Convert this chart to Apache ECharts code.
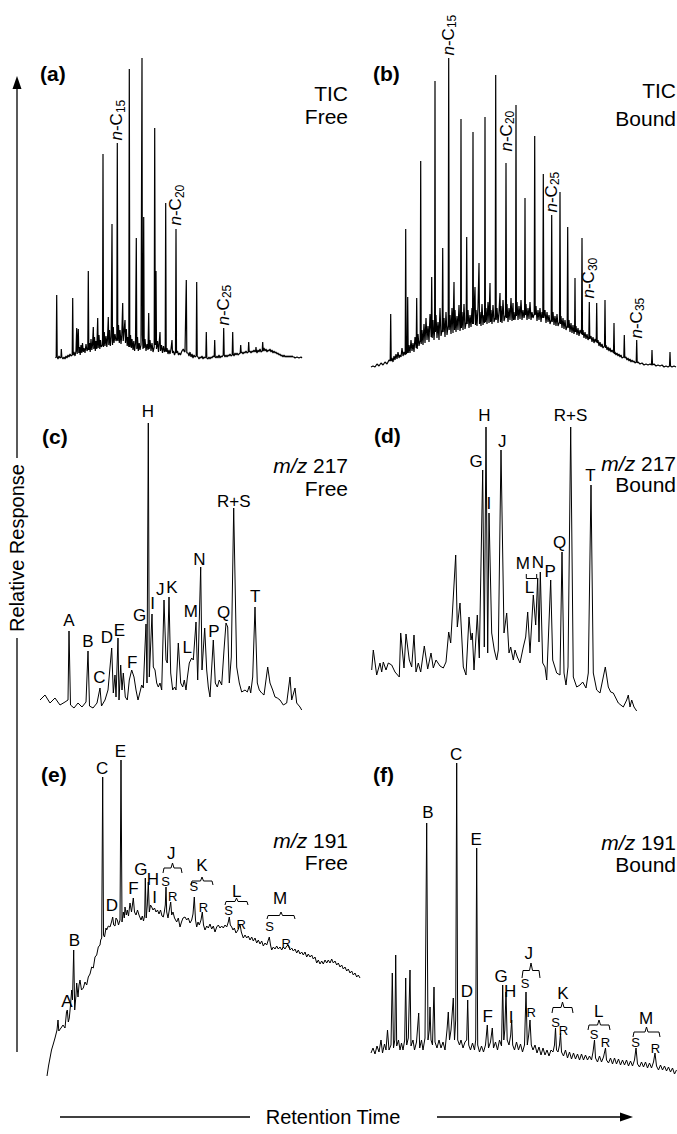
<!DOCTYPE html>
<html>
<head>
<meta charset="utf-8">
<script src="https://cdn.jsdelivr.net/npm/echarts@6/dist/echarts.min.js"></script>
<style>
  html, body { margin: 0; padding: 0; background: #fff; }
  #main { width: 677px; height: 1134px; }
</style>
</head>
<body>
<div id="main"></div>
<script>
// traces: [retention, response] (arbitrary units)
var traceA = [[10.5,7],[11.2,8],[11.7,70],[12.2,8],[13,6],[14,9],[15,7],[16,8],[16.3,16],[16.8,8],[18,6],[19,8],[20,6],[21,9],[22,7],[23,10],[24,8],[25,11],[26,9],[27.2,10],[27.7,67],[28.2,10],[29,13],[30,9],[31,14],[31.7,37],[32.2,11],[33.3,36],[33.8,12],[34.5,18],[35.2,10],[36,20],[36.8,12],[37.5,22],[38.3,13],[39,17],[40,12],[41,21],[42,14],[42.8,16],[43.3,94],[43.8,15],[44.5,22],[45.2,13],[46,26],[46.8,15],[47.5,20],[48.3,38],[48.8,16],[49.5,28],[50.3,14],[51,24],[51.8,16],[52.7,47],[53.2,17],[54,30],[54.8,16],[55.5,25],[56.3,18],[57.5,20],[58,211],[58.5,18],[59.3,33],[60,19],[61,29],[61.8,18],[62.5,26],[63.3,48],[63.8,20],[64.5,35],[65.3,19],[66.2,28],[67,141],[67.5,20],[68.3,38],[69,22],[70,31],[71,24],[71.8,26],[72.3,222],[72.8,24],[73.5,40],[74.3,22],[75,35],[76,21],[76.8,30],[77.7,62],[78.2,24],[79,33],[80,45],[80.5,22],[81.3,36],[82.2,19],[83,28],[83.8,18],[84.3,296],[84.8,18],[85.5,30],[86.3,17],[87,26],[88,15],[88.8,24],[89.6,14],[90.5,22],[91.3,127],[91.8,16],[92.5,28],[93.3,14],[94.2,22],[95,15],[96,20],[97,307],[97.4,30],[98,16],[98.7,148],[99.2,17],[100,26],[101,14],[102,21],[103,15],[103.7,52],[104.2,16],[105,25],[106,14],[107,22],[108,13],[109.2,18],[109.7,237],[110.3,20],[111,94],[111.5,16],[112.5,24],[113.5,13],[115,33],[115.5,14],[116.5,20],[117.5,12],[118.5,19],[119.5,13],[120.2,15],[120.7,162],[121.2,13],[122,17],[123,11],[124,15],[125,11],[126,16],[127,25],[127.5,12],[128.5,14],[129.5,10],[130.5,13],[131,136],[131.5,12],[132.5,14],[133.5,10],[134.5,12],[135.5,10],[136.5,13],[137.5,15],[138.3,16],[139,14],[140,13],[141.3,85],[141.8,12],[143,12],[144,9],[145,13],[146,8],[147,11],[148,7],[149,10],[150,8],[151.2,9],[151.7,83],[152.2,9],[153,8],[154,6],[155,8],[156,7],[157,9],[158,6],[159,8],[160,7],[160.8,8],[161.3,33],[161.8,7],[163,6],[164,8],[165,6],[166,8],[167,7],[168,9],[169.2,8],[169.7,25],[170.2,8],[171,7],[172,9],[173,7],[174,10],[175,7],[176,9],[177,8],[178.2,10],[178.7,37],[179.2,10],[180,8],[181,10],[182,8],[183,10],[184,9],[185,11],[186,9],[187.2,10],[187.7,33],[188.2,11],[189,9],[190,12],[191,10],[192,12],[193,10],[194,11],[195.2,12],[195.7,20],[196.2,12],[197,13],[198,11],[199,13],[200,12],[201,14],[202,12],[203.2,13],[203.7,23],[204.2,13],[205,14],[206,12],[207,14],[208,13],[209,15],[210,13],[210.6,14],[211,18],[211.4,14],[212,12],[213,15],[214,13],[215,16],[216,13],[217.2,14],[217.7,23],[218.2,14],[219,17],[220,14],[221,16],[222,13],[223,15],[224,14],[225,16],[226,13],[227,15],[228,12],[229,14],[230,12],[231,13],[232,11],[233,12],[234,10],[235,11],[236,9],[237,10],[238,8],[239,10],[240,8],[241,9],[242,8],[243,9],[244,8],[245,9],[246,8],[247,9],[248,8],[249,8],[250,7],[252,8],[254,7],[256,8],[257,7]];

var traceB = [[6,3],[8,4],[10,3],[12,6],[14,4],[16,7],[18,5],[20,8],[22,6],[24,10],[25.2,9],[25.7,56],[26.2,9],[27,12],[28,8],[29,14],[30,10],[31,16],[32,11],[33,18],[34,12],[35,15],[36,13],[37,22],[38,14],[39,18],[40.2,15],[40.7,141],[41.2,16],[42.2,18],[42.7,73],[43.2,17],[44,25],[45,17],[46,30],[47,19],[48,27],[49,18],[50,33],[51.2,22],[51.7,72],[52.2,21],[53,36],[54,24],[55.2,30],[55.7,209],[56.2,26],[57,40],[58,25],[59,46],[60,27],[61,52],[62,30],[63,44],[64,28],[65,56],[66.2,33],[66.7,93],[67.2,32],[68,50],[69,30],[69.6,40],[70,289],[70.4,38],[71,55],[72,32],[73,48],[74,30],[75,62],[76,34],[77.2,40],[77.7,122],[78.2,38],[79,52],[80,33],[81,58],[82,35],[83.2,45],[83.7,312],[84.2,40],[85,55],[86,36],[87,62],[88,37],[89,88],[89.5,40],[90,60],[91,38],[92,54],[93,40],[94,65],[95,39],[95.6,45],[96,251],[96.4,42],[97,58],[98,40],[99,66],[100,41],[101.2,48],[101.7,133],[102.2,46],[103,60],[104,42],[105,55],[106,43],[107,62],[107.6,46],[108,238],[108.4,46],[109,58],[110,83],[110.5,45],[111,60],[112,44],[113,63],[114,107],[114.5,46],[115,58],[116,44],[117,66],[118,45],[119,55],[119.6,47],[120,253],[120.4,48],[121,62],[122,46],[123,68],[124,47],[125,87],[125.5,48],[126,60],[127,46],[128,65],[129,48],[130.2,52],[130.7,295],[131.2,50],[132,62],[133,47],[134,58],[135,77],[135.5,48],[136,64],[137,47],[138,70],[139,49],[140.5,55],[141,207],[141.5,52],[142,66],[143,48],[144,62],[145,50],[146,72],[147,49],[148,67],[148.5,50],[149,58],[150,50],[150.6,55],[151,265],[151.4,54],[152,68],[153,50],[154,64],[155,51],[156,70],[157,50],[158,60],[159,52],[159.6,55],[160,172],[160.4,55],[161,66],[162,50],[163,62],[164,51],[165,68],[166,50],[167,58],[168,52],[169.2,56],[169.7,234],[170.2,55],[171,64],[172,49],[173,60],[174,50],[175,62],[176,48],[177,58],[177.8,52],[178.3,196],[178.8,52],[180,60],[181,47],[182,58],[183,48],[184,55],[185,46],[186.2,50],[186.7,155],[187.2,48],[188,58],[189,45],[190,54],[191,44],[192,56],[193,44],[194.5,48],[195,178],[195.5,46],[196,54],[197,42],[198,52],[199,41],[200,50],[201,40],[202.2,44],[202.7,143],[203.2,42],[204,50],[205,38],[206,47],[207,37],[208,45],[209,36],[209.6,40],[210,92],[210.4,38],[211,44],[212,35],[213,42],[214,34],[215,40],[216.5,36],[217,132],[217.5,35],[218,40],[219,32],[220,38],[221,31],[222,36],[223,30],[223.8,32],[224.3,68],[224.8,31],[226,34],[227,28],[228,33],[229,27],[230,31],[231.2,28],[231.7,67],[232.2,27],[233,30],[234,24],[235,28],[236,23],[237,26],[238,22],[239.5,24],[240,70],[240.5,22],[241,25],[242,20],[243,23],[244,19],[245,22],[246,18],[247,20],[248.5,17],[249,47],[249.5,16],[250,18],[251,15],[252,17],[253,14],[254,16],[255,13],[256,15],[257,12],[258.8,13],[259.3,35],[259.8,12],[261,13],[262,10],[263,12],[264,9],[265,11],[266,8],[267,10],[268,8],[269,9],[270,7],[271.2,8],[271.7,30],[272.2,7],[273,8],[275,6],[277,7],[279,5],[281,6],[283,5],[285,6],[286.5,5],[287,20],[287.5,5],[289,6],[291,4],[293,5],[295,4],[297,5],[299,3],[301,4],[303,3],[304.5,4],[305,18],[305.5,4],[307,3],[309,4],[311,3]];

var traceC = [[5,15],[10,20],[15,12],[20,17],[25,10],[30,13],[33,15],[34,84],[35.5,10],[39,7],[43,12],[47,8],[51,13],[53,64],[54.5,9],[58,7],[62,12],[65,27],[66.5,9],[70,15],[73,25],[76.7,67],[78.3,22],[80,40],[81,18],[83,77],[84,15],[85.7,50],[87,25],[88.3,42],[90.3,18],[92.3,15],[94.3,35],[96.7,45],[99,38],[101,25],[103,15],[105,23],[106.7,30],[108.3,27],[110,68],[111,91],[112,32],[113.3,292],[114.3,38],[117,101],[118.3,48],[120,45],[121.7,32],[123.3,28],[125,32],[126.7,25],[129,115],[131,55],[132.3,52],[134,118],[135.7,42],[137.7,25],[139.7,28],[141,25],[143.3,72],[145.7,32],[147.7,28],[149.3,35],[151,25],[152.3,37],[154.3,52],[156.7,57],[158.3,55],[161,93],[162.7,35],[165.7,148],[167,45],[169.7,87],[171.7,45],[173.3,28],[175,18],[178.3,75],[180.3,32],[182.3,28],[184.3,35],[186.7,30],[189,65],[191,92],[192.7,88],[194.3,32],[196.3,58],[198.7,207],[201.7,48],[204.3,32],[206.7,23],[210,25],[212.3,23],[214.3,29],[215.7,22],[217.7,38],[220,108],[222.3,32],[224.3,25],[226.7,22],[229,20],[232.7,48],[235,32],[237.7,25],[240,18],[242.3,17],[245,15],[248.3,10],[251.7,12],[255,38],[256.7,15],[260,27],[261.7,12],[265,8],[266.7,5]];

var traceD = [[6.7,45],[8.3,65],[11.7,40],[15,52],[16.7,43],[18.3,53],[21,45],[23.3,52],[26.7,50],[30,43],[34.3,38],[35.7,82],[39,47],[41,81],[44.3,55],[46.7,48],[49,80],[51,43],[53.3,52],[55.7,43],[59.3,69],[62.7,46],[66,62],[68.3,47],[71,55],[75,49],[78.3,47],[81,53],[83.7,83],[85.7,72],[90.7,160],[92.3,88],[95,112],[98.3,48],[101,40],[104,98],[106,75],[107.3,82],[109,45],[112.3,100],[114.3,57],[117.7,245],[119.3,68],[121,288],[122.7,62],[124,202],[126.7,82],[129.3,65],[131.7,55],[133.3,65],[136,265],[139,82],[141.7,102],[144,62],[145.7,68],[148.3,55],[150,65],[152.3,58],[155,52],[158.3,68],[160.7,78],[162.7,103],[165,62],[168.3,120],[170.7,90],[172.7,137],[174,73],[175.3,143],[177.7,52],[180,48],[181.7,35],[185.7,135],[187.7,55],[191.7,42],[195,40],[197,163],[199,42],[201,30],[203,48],[205.7,288],[208.3,38],[211.7,28],[215,30],[217.7,33],[221,27],[223.3,42],[226,230],[228.3,42],[231.7,25],[235,22],[240.3,48],[243.3,28],[245.7,23],[248.3,22],[253.3,12],[258.3,8],[261.7,15],[263.3,20],[265,8],[266.7,15],[269,8],[271.7,4]];

var traceE = [[7,4],[8.5,14],[10,22],[11.5,30],[13,35],[15,42],[17,50],[18,60],[18.8,49],[21,52],[23,55],[25,52],[26.5,68],[27.3,70],[28.3,58],[29.3,62],[30.5,75],[31.7,90],[32.5,80],[33.7,130],[34.7,70],[36,85],[36.7,97],[38,83],[39,95],[40,100],[41.5,90],[43.3,92],[45,98],[46.7,95],[48.3,103],[50,106],[51.7,113],[53.3,112],[55,123],[56.7,125],[58.3,133],[60,135],[60.7,140],[61.7,142],[62.7,303],[63.5,145],[64.5,143],[66,152],[66.7,150],[68.3,154],[70,153],[71.5,158],[72.7,163],[73.7,155],[75,154],[76,162],[77.3,160],[78.5,155],[80,160],[81,320],[82,158],[83.3,168],[84.3,162],[85,173],[86.3,165],[87.3,170],[88.5,164],[90,177],[91.5,168],[93.3,182],[94.5,168],[96,165],[97.5,170],[99,165],[101,160],[102.3,164],[103.5,159],[104.7,165],[105.3,202],[106.2,162],[107.3,175],[108.3,198],[109.3,168],[110.5,175],[111.7,173],[113,170],[114.5,172],[116,168],[117.5,170],[119,166],[120.5,170],[122,164],[123.3,163],[124.3,168],[125.3,175],[126,193],[126.7,168],[128,162],[129.3,170],[130.7,178],[131.7,165],[133,168],[134.5,162],[136.7,158],[138.3,162],[140,153],[141.5,158],[143,162],[145,163],[146.7,160],[148.3,162],[150,157],[151.7,160],[153,166],[154.3,183],[155.5,160],[156.7,153],[158,158],[159.3,155],[161,160],[162.3,168],[163.5,155],[165,150],[166.7,154],[168.3,152],[170,156],[171.7,151],[173.3,154],[175,148],[176.7,153],[178.3,155],[180,152],[181.7,154],[183.3,152],[185,155],[186.7,153],[188.3,158],[189.3,163],[190.3,155],[191.7,153],[193,150],[194.3,152],[196,147],[198,150],[200,156],[201.3,148],[203.3,142],[205,145],[206.7,142],[208.3,144],[210,140],[211.7,143],[213.3,139],[215,142],[216.7,137],[218.3,140],[220,136],[221.7,139],[223.3,134],[225,137],[226.7,135],[228.3,140],[229.3,143],[230.5,135],[231.7,130],[233.3,133],[235,131],[236.7,134],[238.3,131],[240,133],[241.7,130],[243.3,133],[245,131],[246.7,134],[248.3,135],[250,130],[251.7,132],[253.3,129],[255,131],[256.7,127],[258.3,130],[260,126],[261.7,128],[263.3,125],[265,128],[266.7,123],[268.3,126],[270,123],[271.7,125],[273.3,121],[275,123],[276.7,117],[278.3,120],[280,116],[281.7,119],[283.3,116],[285,120],[286.7,117],[288.3,120],[290,117],[291.7,121],[293.3,117],[295,119],[296.7,115],[298.3,117],[300,113],[301.7,115],[303.3,111],[305,113],[306.7,109],[308.3,111],[310,107],[311.7,109],[313.3,105],[315,107],[316.7,103],[318.3,105],[320,102]];

var traceF = [[6,27],[8,32],[10,26],[12,34],[14,28],[16,40],[17.5,27],[19.5,36],[21,30],[22.5,50],[24,30],[26,35],[27.3,107],[28.5,32],[29.8,40],[30.7,125],[31.7,34],[33.5,40],[35,30],[36.5,37],[38,30],[39.7,40],[40.7,102],[41.7,35],[43.3,42],[45,110],[46,34],[48,40],[49.5,30],[51.5,38],[53.7,67],[54.7,32],[56.5,40],[58,30],[60,42],[61.7,257],[63,40],[64.3,50],[65,73],[66,40],[67.5,35],[69,93],[70,38],[72,32],[74,40],[76,32],[78,38],[80,30],[82,50],[83.3,68],[84.5,40],[86,50],[88.3,82],[89.5,40],[90.7,60],[91.7,317],[92.7,40],[94.5,35],[96,40],[98,32],[100,38],[101.7,40],[102.7,80],[103.7,35],[105.5,30],[107.5,37],[109.5,30],[110.7,40],[111.7,232],[112.7,35],[114.5,28],[116.5,34],[118.5,28],[120.5,35],[122.3,55],[123.5,32],[125.5,38],[127.3,52],[128.5,32],[130.5,38],[132.5,30],[134.5,40],[136.5,34],[137.7,95],[138.8,40],[139.8,50],[141,88],[142.2,40],[144,35],[145.7,45],[146.7,60],[147.7,35],[149.5,30],[151.5,38],[153.5,30],[155.5,36],[157.5,28],[159.5,35],[161,88],[162.3,35],[163.7,45],[165,60],[166.3,35],[168,30],[170,35],[172,27],[174,33],[176,25],[178,32],[180,25],[182,30],[184,24],[186,30],[188,28],[189.5,35],[190.5,52],[191.5,30],[193,28],[194.5,35],[195.5,47],[196.5,28],[198.5,24],[200.5,30],[202.5,22],[204.5,28],[206.5,21],[208.5,27],[210.5,21],[212.5,26],[214.5,20],[216.5,26],[218.5,20],[220.5,25],[222.5,20],[224.5,24],[226.5,20],[228,28],[229.5,40],[230.5,22],[232.5,18],[234.5,24],[236.5,18],[238.5,23],[240.5,32],[241.5,20],[243.5,17],[245.5,22],[247.5,16],[249.5,22],[251.5,16],[253.5,21],[255.5,15],[257.5,20],[259.5,15],[261.5,20],[263.5,14],[265.5,19],[267.5,14],[269.5,20],[271,32],[272.5,16],[274.5,13],[276.5,18],[278.5,13],[280.5,18],[282.5,12],[284.5,17],[286.5,12],[288.5,18],[290,27],[291.5,14],[293.5,10],[295.5,15],[297.5,10],[299.5,14],[301.5,9],[303.5,13],[305.5,8],[307.5,12],[309.5,6],[311.5,10]];

// n-alkane labels: [carbon number, retention, response at label foot]
var alkanesA = [[15,72.3,224],[20,131,139],[25,178.7,39]];
var alkanesB = [[15,83.7,314],[20,141.7,218],[25,186.7,157],[30,224.3,71],[35,271.7,31]];

// peak letters: [text, retention, response]
var lettersC = [['A',34.3,94],['B',53.3,73],['C',65,37],['D',72.3,77],['E',85,84],['F',97.7,52],['G',105,99],['H',113.3,303],['I',118,111],['J',125.7,125],['K',137.3,127],['L',152.7,67],['M',156.3,103],['N',165,155],['P',179.3,83],['Q',189,102],['R+S',199.3,213],['T',220.7,118]];
var lettersD = [['G',111.7,253],['H',120,299],['I',124.3,211],['J',137.7,273],['M',158.3,151],['N',173.3,152],['L',165,127],['P',185.7,143],['Q',195,172],['R+S',206,299],['T',226,239]];
var lettersE = [['A',27.3,78],['B',35,139],['C',62.7,311],['D',72.3,174],['E',81,328],['F',94,191],['G',101.3,210],['H',113.3,200],['I',115,182],['J',131.7,226],['K',162.3,214],['L',197.3,188],['M',240.7,181]];
var smallE = [['S',126,198],['R',133.3,183],['S',154.3,193],['R',164,172],['S',189,169],['R',201.7,155],['S',230,153],['R',246.7,136]];
var lettersF = [['B',63.3,267],['C',91.7,325],['D',102.3,88],['E',111.7,240],['F',123.3,63],['G',136.7,103],['H',145.7,88],['I',146.7,62],['J',164.3,126],['K',198.3,86],['L',234.3,68],['M',281.7,61]];
var smallF = [['S',160.7,96],['R',166.7,67],['S',191,57],['R',199,49],['S',229.5,45],['R',241,37],['S',271,37],['R',291,31]];

// braces over S/R pairs: [from, to, response at ends, response at notch]
var bracesE = [[123,142,207,217],[151,173,195,203],[185,208,175,182],[227,255,161,168]];
var bracesF = [[157,175,102,117],[187,208,67,78],[223,245,50,60],[268,295,43,53]];
var bracketD = [[161.3,171.7,141,136.5]];

var FONT = "'Liberation Sans', Arial, Helvetica, sans-serif";

var layout = [
  {left: 45,  top: 50,  width: 270, height: 315},
  {left: 365, top: 10,  width: 312, height: 360},
  {left: 35,  top: 410, width: 300, height: 305},
  {left: 365, top: 410, width: 312, height: 305},
  {left: 40,  top: 745, width: 330, height: 335},
  {left: 365, top: 745, width: 312, height: 335}
];
var traces = [traceA, traceB, traceC, traceD, traceE, traceF];
var widths = [1.2, 1.2, 1, 1, 1, 1];

var chart = echarts.init(document.getElementById('main'), null, {renderer: 'svg'});

var grids = [], xAxes = [], yAxes = [], series = [];
layout.forEach(function (g, i) {
  grids.push({left: g.left, top: g.top, width: g.width, height: g.height, outerBoundsMode: 'none'});
  xAxes.push({type: 'value', gridIndex: i, min: 0, max: g.width, show: false});
  yAxes.push({type: 'value', gridIndex: i, min: 0, max: g.height, show: false});
  series.push({
    type: 'line', xAxisIndex: i, yAxisIndex: i, data: traces[i],
    showSymbol: false, symbol: 'none', clip: false, silent: true,
    lineStyle: {color: '#000', width: widths[i]}
  });
});

function letterSeries(i, list, size) {
  return {
    type: 'scatter', xAxisIndex: i, yAxisIndex: i, clip: false, silent: true,
    symbolSize: 1, itemStyle: {color: '#fff', opacity: 0}, z: 5,
    data: list.map(function (d) { return {name: d[0], value: [d[1], d[2]]}; }),
    label: {show: true, position: [0, 0], align: 'center', verticalAlign: 'middle',
            formatter: '{b}', color: '#000', opacity: 1, textBorderWidth: 0,
            fontSize: size, fontFamily: FONT}
  };
}
function alkaneSeries(i, list) {
  return {
    type: 'scatter', xAxisIndex: i, yAxisIndex: i, clip: false, silent: true,
    symbolSize: 1, itemStyle: {color: '#fff', opacity: 0}, z: 5,
    data: list.map(function (d) { return {name: String(d[0]), value: [d[1], d[2]]}; }),
    label: {
      show: true, position: [0, 0], rotate: 90, align: 'left', verticalAlign: 'middle',
      color: '#000', opacity: 1, textBorderWidth: 0,
      formatter: function (p) { return '{i|n}{b|-C}{s|' + p.name + '}'; },
      rich: {
        i: {fontStyle: 'italic', fontSize: 17, fontFamily: FONT, color: '#000', lineHeight: 20},
        b: {fontSize: 17, fontFamily: FONT, color: '#000', lineHeight: 20},
        s: {fontSize: 12, fontFamily: FONT, color: '#000', verticalAlign: 'bottom', lineHeight: 8}
      }
    }
  };
}
function braceSeries(i, list) {
  return {
    type: 'custom', xAxisIndex: i, yAxisIndex: i, clip: false, silent: true, z: 4,
    data: list, encode: {x: [0, 1], y: [2, 3]},
    renderItem: function (params, api) {
      var a = api.value(0), b = api.value(1), lo = api.value(2), hi = api.value(3);
      var mid = lo + (hi - lo) * 0.5, m = (a + b) / 2;
      var pts = [[a, lo], [a + 1, mid], [m - 1.5, mid], [m, hi], [m + 1.5, mid], [b - 1, mid], [b, lo]]
        .map(function (p) { return api.coord(p); });
      return {type: 'polyline', shape: {points: pts}, style: {stroke: '#000', lineWidth: 1, fill: null}};
    }
  };
}
function bracketSeries(i, list) {
  return {
    type: 'custom', xAxisIndex: i, yAxisIndex: i, clip: false, silent: true, z: 4,
    data: list, encode: {x: [0, 1], y: [2, 3]},
    renderItem: function (params, api) {
      var a = api.value(0), b = api.value(1), top = api.value(2), bot = api.value(3);
      var pts = [[a, top], [a, bot], [b, bot], [b, top]].map(function (p) { return api.coord(p); });
      return {type: 'polyline', shape: {points: pts}, style: {stroke: '#000', lineWidth: 1, fill: null}};
    }
  };
}

series.push(alkaneSeries(0, alkanesA));
series.push(alkaneSeries(1, alkanesB));
series.push(letterSeries(2, lettersC, 17));
series.push(letterSeries(3, lettersD, 17));
series.push(letterSeries(4, lettersE, 17));
series.push(letterSeries(4, smallE, 13));
series.push(letterSeries(5, lettersF, 17));
series.push(letterSeries(5, smallF, 13));
series.push(braceSeries(4, bracesE));
series.push(braceSeries(5, bracesF));
series.push(bracketSeries(3, bracketD));

function txt(x, y, text, opts) {
  opts = opts || {};
  return {
    type: 'text', x: x, y: y, rotation: opts.rotation || 0, silent: true,
    style: {
      text: text, fill: '#000', align: opts.align || 'left', verticalAlign: 'middle',
      font: (opts.bold ? 'bold ' : '') + (opts.size || 21) + 'px ' + FONT,
      rich: {i: {fontStyle: 'italic', fontSize: opts.size || 21, fontFamily: FONT, fill: '#000'}}
    }
  };
}

var graphics = [
  txt(40, 73, '(a)', {bold: true}), txt(348, 93, 'TIC', {align: 'right'}), txt(348, 116, 'Free', {align: 'right'}),
  txt(373, 73, '(b)', {bold: true}), txt(676, 90, 'TIC', {align: 'right'}), txt(676, 118, 'Bound', {align: 'right'}),
  txt(42, 436, '(c)', {bold: true}), txt(348, 465, '{i|m/z} 217', {align: 'right'}), txt(348, 488, 'Free', {align: 'right'}),
  txt(374, 435, '(d)', {bold: true}), txt(676, 463, '{i|m/z} 217', {align: 'right'}), txt(676, 484, 'Bound', {align: 'right'}),
  txt(41, 774, '(e)', {bold: true}), txt(348, 840, '{i|m/z} 191', {align: 'right'}), txt(348, 862, 'Free', {align: 'right'}),
  txt(373, 774, '(f)', {bold: true}), txt(676, 842, '{i|m/z} 191', {align: 'right'}), txt(676, 864, 'Bound', {align: 'right'}),
  // vertical axis arrow
  {type: 'line', silent: true, shape: {x1: 17, y1: 86, x2: 17, y2: 458}, style: {stroke: '#000', lineWidth: 1.3}},
  {type: 'line', silent: true, shape: {x1: 17, y1: 638, x2: 17, y2: 1052}, style: {stroke: '#000', lineWidth: 1.3}},
  {type: 'polygon', silent: true, shape: {points: [[17, 76], [12.5, 89], [21.5, 89]]}, style: {fill: '#000'}},
  txt(17, 548, 'Relative Response', {align: 'center', rotation: Math.PI / 2, size: 20}),
  // horizontal axis arrow
  {type: 'line', silent: true, shape: {x1: 60, y1: 1117, x2: 250, y2: 1117}, style: {stroke: '#000', lineWidth: 1.3}},
  {type: 'line', silent: true, shape: {x1: 437, y1: 1117, x2: 622, y2: 1117}, style: {stroke: '#000', lineWidth: 1.3}},
  {type: 'polygon', silent: true, shape: {points: [[633, 1117], [620, 1112.5], [620, 1121.5]]}, style: {fill: '#000'}},
  txt(333, 1117, 'Retention Time', {align: 'center', size: 20})
];

chart.setOption({
  animation: false,
  backgroundColor: '#fff',
  grid: grids,
  xAxis: xAxes,
  yAxis: yAxes,
  series: series,
  graphic: {elements: graphics}
});
</script>
</body>
</html>
